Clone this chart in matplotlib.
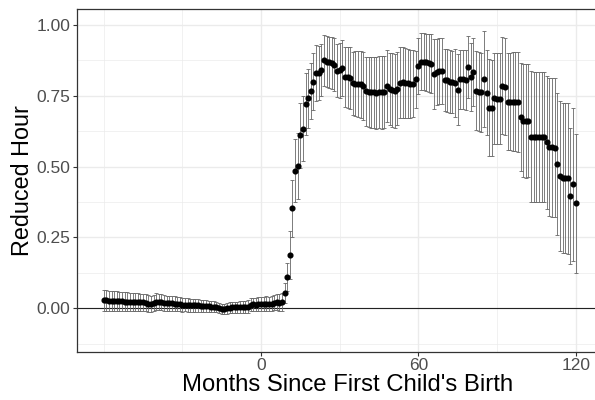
import numpy as np
import matplotlib.pyplot as plt

plt.rcParams['font.family'] = ['Liberation Sans', 'DejaVu Sans']

# event-study months relative to first birth
months = np.arange(-60, 121)

# estimated share with reduced hours, months -60..-1
pre_coef = [
    0.028, 0.028, 0.027, 0.027, 0.027, 0.026,
    0.025, 0.025, 0.024, 0.024, 0.023, 0.023, 0.022, 0.022, 0.021, 0.021,
    0.020, 0.016, 0.015, 0.019,
    0.024, 0.023, 0.021,
    0.019, 0.018, 0.018, 0.017, 0.016, 0.015, 0.014,
    0.013, 0.013, 0.012, 0.011, 0.011, 0.010, 0.010, 0.009, 0.008, 0.008, 0.007, 0.006, 0.006, 0.005,
    0.001, -0.002, -0.003, 0.000,
    0.002, 0.003, 0.003, 0.003, 0.004, 0.004, 0.005, 0.006,
    0.012, 0.014, 0.013, 0.014,
]
# months 0..120
post_coef = [
    0.015, 0.014, 0.016, 0.015, 0.016, 0.020, 0.021, 0.020,
    0.022, 0.053, 0.110, 0.188, 0.353, 0.486, 0.502, 0.610, 0.633, 0.720, 0.741, 0.767,
    0.800, 0.830, 0.830, 0.841, 0.876, 0.870, 0.868, 0.866, 0.860, 0.839,
    0.840, 0.848, 0.817, 0.815, 0.813, 0.794, 0.792, 0.792, 0.790, 0.786,
    0.765, 0.763, 0.762, 0.762, 0.761, 0.762, 0.762, 0.763, 0.785, 0.774,
    0.770, 0.767, 0.775, 0.796, 0.797, 0.796, 0.794, 0.792, 0.792, 0.808,
    0.855, 0.870, 0.870, 0.868, 0.866, 0.863, 0.827, 0.835, 0.838, 0.838,
    0.806, 0.804, 0.800, 0.799, 0.796, 0.771, 0.808, 0.808, 0.806, 0.851,
    0.815, 0.835, 0.768, 0.764, 0.762, 0.808, 0.760, 0.708, 0.706, 0.741,
    0.740, 0.740, 0.786, 0.782, 0.729, 0.729, 0.729, 0.729, 0.728, 0.676,
    0.662, 0.661, 0.662, 0.606, 0.605, 0.605, 0.605, 0.605, 0.604, 0.585,
    0.569, 0.568, 0.567, 0.509, 0.467, 0.461, 0.459, 0.458, 0.397, 0.437,
    0.371,
]

# half-width of the confidence interval
pre_ci = [
    0.036, 0.036, 0.035, 0.035, 0.035, 0.034, 0.034, 0.033, 0.033, 0.033,
    0.032, 0.032, 0.031, 0.031, 0.031, 0.030, 0.030, 0.030, 0.029, 0.029,
    0.029, 0.028, 0.028, 0.028, 0.027, 0.027, 0.026, 0.026, 0.026, 0.025,
    0.025, 0.024, 0.024, 0.023, 0.023, 0.022, 0.022, 0.021, 0.021, 0.020,
    0.020, 0.019, 0.019, 0.018, 0.018, 0.018, 0.018, 0.019, 0.019, 0.020,
    0.020, 0.021, 0.021, 0.022, 0.022, 0.023, 0.023, 0.024, 0.024, 0.025,
]
post_ci = [
    0.025, 0.025, 0.026, 0.026, 0.027, 0.027, 0.028, 0.029,
    0.031, 0.035, 0.050, 0.085, 0.100, 0.110, 0.115, 0.115, 0.115, 0.110, 0.105, 0.100,
    0.100, 0.098, 0.095, 0.093, 0.090, 0.090, 0.090, 0.092, 0.093, 0.095,
    0.097, 0.100, 0.105, 0.108, 0.110, 0.112, 0.115, 0.116, 0.118, 0.120,
    0.122, 0.124, 0.125, 0.126, 0.127, 0.127, 0.128, 0.128, 0.128, 0.128,
    0.130, 0.130, 0.128, 0.125, 0.124, 0.123, 0.122, 0.120, 0.118, 0.100,
    0.100, 0.100, 0.100, 0.100, 0.102, 0.105, 0.124, 0.116, 0.116, 0.116,
    0.110, 0.110, 0.110, 0.110, 0.120, 0.125, 0.105, 0.105, 0.105, 0.110,
    0.120, 0.120, 0.140, 0.140, 0.140, 0.170, 0.150, 0.170, 0.170, 0.160,
    0.160, 0.160, 0.170, 0.170, 0.170, 0.170, 0.175, 0.175, 0.175, 0.190,
    0.200, 0.200, 0.200, 0.230, 0.230, 0.230, 0.230, 0.230, 0.230, 0.235,
    0.245, 0.245, 0.245, 0.250, 0.265, 0.265, 0.265, 0.265, 0.240, 0.270,
    0.245,
]

coef = np.array(pre_coef + post_coef)
ci = np.array(pre_ci + post_ci)

x_breaks = [0, 60, 120]
x_minor = [-60, -30, 30, 90]
y_breaks = [0.0, 0.25, 0.5, 0.75, 1.0]
y_minor = [-0.125, 0.125, 0.375, 0.625, 0.875]

fig = plt.figure(figsize=(5.95, 4.0), dpi=100)
ax = fig.add_axes([0.1289, 0.1208, 0.8761, 0.856])

ax.set_xlim(-70.3, 128.5)
ax.set_ylim(-0.153, 1.055)

ax.set_xticks(x_breaks)
ax.set_xticks(x_minor, minor=True)
ax.set_yticks(y_breaks)
ax.set_yticks(y_minor, minor=True)
ax.set_yticklabels(['%.2f' % v for v in y_breaks])

ax.grid(True, which='major', color='#EBEBEB', linewidth=1.0)
ax.grid(True, which='minor', color='#EBEBEB', linewidth=0.5)
ax.set_axisbelow(True)
ax.tick_params(which='minor', length=0)
ax.tick_params(which='major', length=3, width=0.8, color='#333333',
               labelcolor='#4D4D4D', labelsize=12.5, pad=1.5)

for s in ax.spines.values():
    s.set_color('#333333')
    s.set_linewidth(0.9)

ax.axhline(0, color='#222222', linewidth=0.8, zorder=1)

ax.errorbar(months, coef, yerr=ci, fmt='none', ecolor='#666666',
            elinewidth=0.6, capsize=1.3, capthick=0.6, zorder=2)
ax.plot(months, coef, 'o', color='black', markersize=3.4, zorder=3)

ax.set_xlabel("Months Since First Child's Birth", fontsize=17.2)
ax.set_ylabel('Reduced Hour', fontsize=16.8)
ax.xaxis.set_label_coords(0.5205, -0.064)
ax.yaxis.set_label_coords(-0.081, 0.5)

fig.savefig('out.png', dpi=100)
